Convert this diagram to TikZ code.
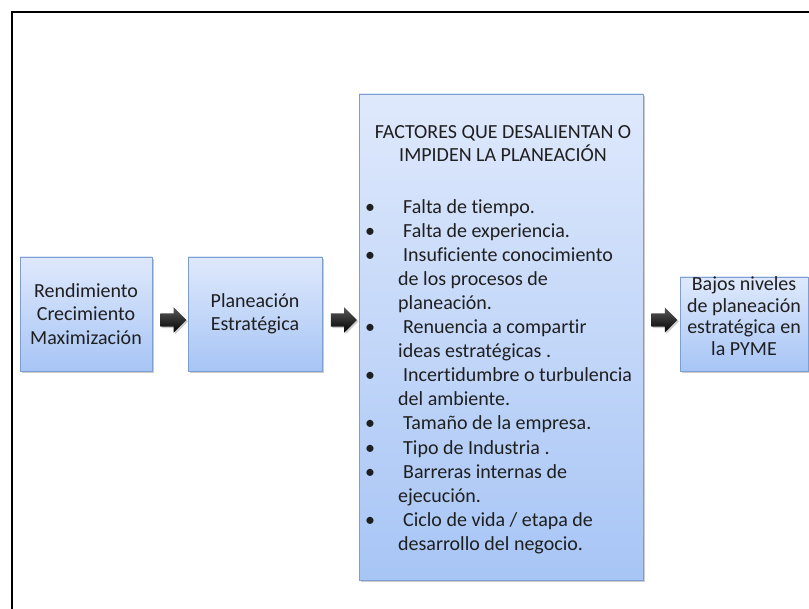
\documentclass[tikz,border=0pt]{standalone}
\usepackage{fontspec}
\setmainfont{Carlito}[Ligatures={NoCommon}]
\usetikzlibrary{positioning,calc,shapes.arrows,shadows}
\definecolor{AzulBorde}{HTML}{7F9ED0}
\definecolor{AzulArriba}{HTML}{DFE9FC}
\definecolor{AzulAbajo}{HTML}{A7C5F5}
\definecolor{Sombra}{HTML}{9A9A9A}
\newcommand{\punto}{\makebox[38pt][l]{\textbullet}}
\newcommand{\sigue}{\hspace*{33pt}}

\begin{document}
\begin{tikzpicture}[x=1pt,y=-1pt,
    caja/.style={
        draw=AzulBorde,
        line width=0.8pt,
        top color=AzulArriba,
        bottom color=AzulAbajo,
        drop shadow={shadow xshift=2pt,shadow yshift=-2pt,fill=Sombra},
        align=center,
        inner sep=0pt,
        text=black!88,
        font=\fontsize{20}{23.5}\selectfont
    },
    flecha/.style={
        single arrow,
        draw=none,
        top color=black!65,
        bottom color=black,
        minimum height=26pt,
        inner xsep=0pt,
        inner ysep=6.5pt,
        single arrow head extend=6pt,
        drop shadow={shadow xshift=1.5pt,shadow yshift=-1.5pt,fill=Sombra}
    },
    texto/.style={
        inner sep=0pt,
        text=black!88
    }
]
    \useasboundingbox (0,0) rectangle (809,609);
    % marco
    \draw[line width=2pt] (12,609) |- (809,12);

    % cajas
    \node[caja, minimum width=132pt, minimum height=114pt] (rend) at (86,314)
        {Rendimiento\\Crecimiento\\Maximización};
    \node[caja, minimum width=134pt, minimum height=114pt] (plan) at (255,314)
        {Planeación\\Estratégica};
    \node[caja, minimum width=284pt, minimum height=486pt] (factores) at (501,337) {};
    \node[caja, minimum width=128pt, minimum height=94pt] (bajos) at (744,324) {};
    \node[texto, align=center, font=\fontsize{20}{21.5}\selectfont] (bajostexto)
        at ([yshift=8pt]bajos.center)
        {Bajos niveles\\de planeación\\estratégica en\\la PYME};

    % texto de los factores
    \node[texto, anchor=north, align=center, font=\fontsize{20}{23}\selectfont] (titulo)
        at (503,125.6) {FACTORES QUE DESALIENTAN O\\IMPIDEN LA PLANEACIÓN};
    \node[texto, anchor=north west, align=left, font=\fontsize{20}{24.1}\selectfont] (lista)
        at (365,199) {
        \punto Falta de tiempo.\\
        \punto Falta de experiencia.\\
        \punto Insuficiente conocimiento\\
        \sigue de los procesos de\\
        \sigue planeación.\\
        \punto Renuencia a compartir\\
        \sigue ideas estratégicas .\\
        \punto Incertidumbre o turbulencia\\
        \sigue del ambiente.\\
        \punto Tamaño de la empresa.\\
        \punto Tipo de Industria .\\
        \punto Barreras internas de\\
        \sigue ejecución.\\
        \punto Ciclo de vida / etapa de\\
        \sigue desarrollo del negocio.};

    % flechas
    \node[flecha] (f1) at ($(rend.east)!.5!(plan.west)+(0,6)$) {};
    \node[flecha] (f2) at ($(plan.east)+(18,6)$) {};
    \node[flecha] (f3) at ($(bajos.west)+(-18.5,-4)$) {};
\end{tikzpicture}
\end{document}
